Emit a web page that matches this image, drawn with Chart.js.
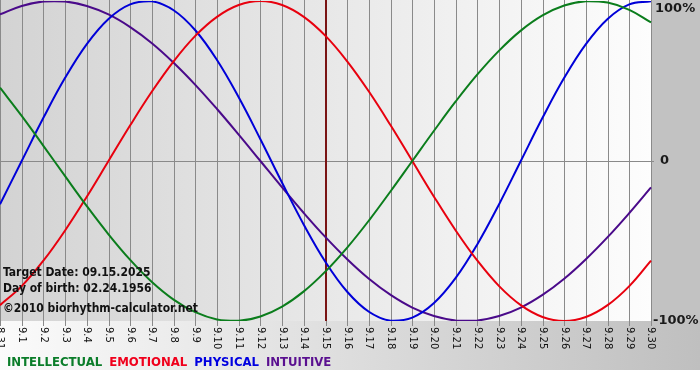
<!DOCTYPE html>
<html>
<head>
<meta charset="utf-8">
<script src="https://cdn.jsdelivr.net/npm/chart.js@4"></script>
<style>
html,body{margin:0;padding:0;background:#fff;}
canvas{display:block;}
</style>
</head>
<body>
<canvas id="c" width="700" height="380"></canvas>
<script>
const dayLabels = ['8.31','9.1','9.2','9.3','9.4','9.5','9.6','9.7','9.8','9.9','9.10','9.11','9.12','9.13','9.14','9.15','9.16','9.17','9.18','9.19','9.20','9.21','9.22','9.23','9.24','9.25','9.26','9.27','9.28','9.29','9.30'];
const intellectual = [0.458,0.282,0.095,-0.095,-0.282,-0.458,-0.618,-0.756,-0.866,-0.945,-0.990,-0.999,-0.972,-0.910,-0.815,-0.690,-0.541,-0.372,-0.189,0.000,0.189,0.372,0.541,0.690,0.815,0.910,0.972,0.999,0.990,0.945,0.866];
const emotional = [-0.901,-0.782,-0.623,-0.434,-0.223,0.000,0.223,0.434,0.623,0.782,0.901,0.975,1.000,0.975,0.901,0.782,0.623,0.434,0.223,0.000,-0.223,-0.434,-0.623,-0.782,-0.901,-0.975,-1.000,-0.975,-0.901,-0.782,-0.623];
const physical = [-0.270,0.000,0.270,0.520,0.731,0.888,0.979,0.998,0.942,0.817,0.631,0.398,0.136,-0.136,-0.398,-0.631,-0.817,-0.942,-0.998,-0.979,-0.888,-0.731,-0.520,-0.270,0.000,0.270,0.520,0.731,0.888,0.979,0.998];
const intuitive = [0.916,0.969,0.997,0.997,0.969,0.916,0.837,0.736,0.614,0.476,0.325,0.165,0.000,-0.165,-0.325,-0.476,-0.614,-0.736,-0.837,-0.916,-0.969,-0.997,-0.997,-0.969,-0.916,-0.837,-0.736,-0.614,-0.476,-0.325,-0.165];
const seriesNames = ['INTELLECTUAL','EMOTIONAL','PHYSICAL','INTUITIVE'];
const yTickValues = [1, 0, -1];
const yTickLabels = ['100%', '0', '-100%'];
const targetLabel = '9.15';
const infoLines = ['Target Date: 09.15.2025', 'Day of birth: 02.24.1956', '\u00A92010 biorhythm-calculator.net'];

const lineColors = ['#0b7d1c', '#e8000e', '#0000d8', '#4a0a8a'];
const legendColors = ['#0b7d2a', '#f0001c', '#0000e0', '#5a1090'];
const BOLD = '"DejaVu Sans Condensed", "DejaVu Sans", sans-serif';

const bgPlugin = {
  id: 'bgPlugin',
  beforeDraw(chart) {
    const {ctx, chartArea: a} = chart;
    const W = chart.width;
    ctx.save();
    ctx.fillStyle = '#ffffff';
    ctx.fillRect(0, 0, W, chart.height);
    ctx.fillStyle = '#c2c2c2';
    ctx.fillRect(a.right, 0, W - a.right, 370);
    const gb = ctx.createLinearGradient(0, 0, W, 0);
    gb.addColorStop(0, '#fbfbfb');
    gb.addColorStop(1, '#bfbfbf');
    ctx.fillStyle = gb;
    ctx.fillRect(0, a.bottom, W, 370 - a.bottom);
    const gp = ctx.createLinearGradient(a.left, 0, a.right, 0);
    gp.addColorStop(0, '#d3d3d3');
    gp.addColorStop(1, '#fdfdfd');
    ctx.fillStyle = gp;
    ctx.fillRect(a.left, 0, a.right - a.left, a.bottom);
    ctx.restore();
  },
  beforeDatasetsDraw(chart) {
    const {ctx, chartArea: a, scales: {x, y}} = chart;
    ctx.save();
    ctx.strokeStyle = '#8a8a8a';
    ctx.lineWidth = 1;
    dayLabels.forEach((lab, i) => {
      const px = Math.round(x.getPixelForValue(i)) + 0.5;
      ctx.beginPath();
      ctx.moveTo(px, 0);
      ctx.lineTo(px, a.bottom + 5);
      ctx.stroke();
    });
    const y0 = Math.round(y.getPixelForValue(0)) + 0.5;
    ctx.beginPath();
    ctx.moveTo(a.left, y0);
    ctx.lineTo(a.right + 3, y0);
    ctx.stroke();
    const ti = dayLabels.indexOf(targetLabel);
    const tx = Math.round(x.getPixelForValue(ti));
    ctx.strokeStyle = '#7a1414';
    ctx.lineWidth = 2;
    ctx.beginPath();
    ctx.moveTo(tx, 0);
    ctx.lineTo(tx, a.bottom);
    ctx.stroke();
    ctx.restore();
  },
  afterDatasetsDraw(chart) {
    const {ctx, chartArea: a, scales: {x, y}} = chart;
    ctx.save();
    ctx.fillStyle = '#111';
    ctx.font = 'bold 12px ' + BOLD;
    ctx.textAlign = 'left';
    ctx.textBaseline = 'alphabetic';
    ctx.fillText(infoLines[0], 3, 276);
    ctx.fillText(infoLines[1], 3, 292);
    ctx.fillText(infoLines[2], 3, 312);
    ctx.font = '10px "DejaVu Sans", sans-serif';
    ctx.fillStyle = '#111';
    dayLabels.forEach((lab, i) => {
      const px = x.getPixelForValue(i);
      ctx.save();
      ctx.translate(px, a.bottom + 6);
      ctx.rotate(Math.PI / 2);
      ctx.textAlign = 'left';
      ctx.textBaseline = 'middle';
      ctx.fillText(lab, 0, 0);
      ctx.restore();
    });
    ctx.font = 'bold 13px "DejaVu Sans", sans-serif';
    ctx.fillStyle = '#1a1a1a';
    ctx.textBaseline = 'middle';
    yTickValues.forEach((v, i) => {
      const py = y.getPixelForValue(v);
      const lab = yTickLabels[i];
      const px = a.right + (lab === '0' ? 9 : (lab.startsWith('-') ? 2 : 4));
      const yy = Math.min(Math.max(py, 8), 322);
      ctx.fillText(lab, px, yy + (v === 1 ? 1 : 0));
    });
    ctx.font = 'bold 13px ' + BOLD;
    ctx.textBaseline = 'alphabetic';
    let lx = 7;
    seriesNames.forEach((n, i) => {
      ctx.fillStyle = legendColors[i];
      ctx.fillText(n, lx, 366);
      lx += ctx.measureText(n).width + 7;
    });
    ctx.restore();
  }
};

new Chart(document.getElementById('c'), {
  type: 'line',
  data: {
    labels: dayLabels,
    datasets: [
      {label: seriesNames[0], data: intellectual, borderColor: lineColors[0]},
      {label: seriesNames[1], data: emotional, borderColor: lineColors[1]},
      {label: seriesNames[2], data: physical, borderColor: lineColors[2]},
      {label: seriesNames[3], data: intuitive, borderColor: lineColors[3]}
    ].map(d => Object.assign(d, {borderWidth: 2, pointRadius: 0, fill: false, tension: 0.4}))
  },
  options: {
    responsive: false,
    animation: false,
    events: [],
    layout: {padding: {top: 1, left: 0, right: 49, bottom: 59}},
    plugins: {legend: {display: false}, tooltip: {enabled: false}},
    scales: {
      x: {display: false, offset: false},
      y: {display: false, min: -1, max: 1}
    }
  },
  plugins: [bgPlugin]
});
</script>
</body>
</html>
